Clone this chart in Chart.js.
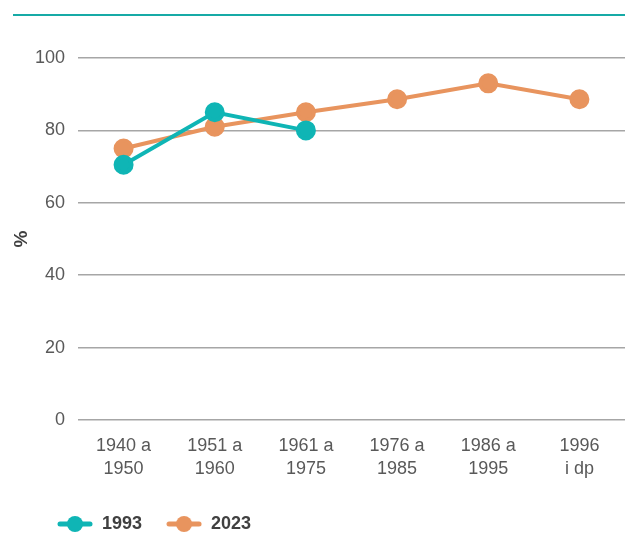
<!DOCTYPE html>
<html>
<head>
<meta charset="utf-8">
<script src="https://cdn.jsdelivr.net/npm/chart.js@4"></script>
<style>
  body { margin: 0; background: #fff; }
  .wrap { position: relative; width: 625px; height: 553px; }
  .topline { position: absolute; left: 13px; right: 0; top: 14px; border-top: 2px solid #16aaa6; }
</style>
</head>
<body>
<div class="wrap">
  <div class="topline"></div>
  <canvas id="myChart" width="625" height="553"></canvas>
</div>
<script>
const labels = [['1940 a', '1950'], ['1951 a', '1960'], ['1961 a', '1975'], ['1976 a', '1985'], ['1986 a', '1995'], ['1996', 'i dp']];
const serie1993 = [70.5, 85, 80, null, null, null];
const serie2023 = [75, 81, 85, 88.6, 93, 88.6];
const yTicks = [0, 20, 40, 60, 80, 100];

const teal = '#0fb5b5';
const orange = '#e8945e';
const FONT = 'Liberation Sans, Arial, sans-serif';

// legend marker: line with a dot in the middle
function marker(color) {
  const c = document.createElement('canvas');
  c.width = 36; c.height = 18;
  const g = c.getContext('2d');
  g.strokeStyle = color;
  g.lineWidth = 5;
  g.lineCap = 'round';
  g.beginPath(); g.moveTo(3, 9); g.lineTo(33, 9); g.stroke();
  g.fillStyle = color;
  g.beginPath(); g.arc(18, 9, 8, 0, Math.PI * 2); g.fill();
  return c;
}

// push the legend to the right, under the plot
const legendShift = {
  id: 'legendShift',
  afterLayout(chart) {
    chart.legend.left += 33;
    chart.legend.right += 33;
  }
};

const ctx = document.getElementById('myChart');

new Chart(ctx, {
  type: 'line',
  data: {
    labels: labels,
    datasets: [
      {
        label: '1993',
        data: serie1993,
        borderColor: teal,
        backgroundColor: teal,
        borderWidth: 4,
        pointStyle: 'circle',
        pointRadius: 8,
        pointHoverRadius: 8
      },
      {
        label: '2023',
        data: serie2023,
        borderColor: orange,
        backgroundColor: orange,
        borderWidth: 4,
        pointStyle: 'circle',
        pointRadius: 8,
        pointHoverRadius: 8
      }
    ]
  },
  plugins: [legendShift],
  options: {
    responsive: false,
    animation: false,
    layout: { autoPadding: false, padding: { top: 58, right: 0, left: 0, bottom: 10 } },
    plugins: {
      legend: {
        position: 'bottom',
        align: 'start',
        labels: {
          usePointStyle: true,
          pointStyleWidth: 36,
          padding: 24,
          color: '#404040',
          font: { family: FONT, size: 18, weight: 'bold' },
          generateLabels: (chart) => chart.data.datasets.map((ds, i) => ({
            text: ds.label,
            fontColor: '#404040',
            pointStyle: marker(ds.borderColor),
            lineWidth: 0,
            strokeStyle: ds.borderColor,
            fillStyle: ds.borderColor,
            datasetIndex: i
          }))
        }
      },
      tooltip: { enabled: false }
    },
    scales: {
      x: {
        offset: true,
        grid: { display: false },
        border: { display: false },
        ticks: {
          color: '#595959',
          maxRotation: 0,
          padding: 6,
          font: { family: FONT, size: 18, lineHeight: 1.3 }
        },
        afterFit: (s) => { s.height = 71; s.paddingLeft = 0; s.paddingRight = 0; }
      },
      y: {
        min: 0,
        max: 100,
        afterBuildTicks: (s) => { s.ticks = yTicks.map(v => ({ value: v })); },
        grid: { color: '#a6a6a6', lineWidth: 1.6, drawTicks: false },
        border: { display: false },
        ticks: {
          color: '#595959',
          padding: 13,
          font: { family: FONT, size: 18 }
        },
        title: {
          display: true,
          text: '%',
          color: '#404040',
          padding: { top: 10, bottom: 0 },
          font: { family: FONT, size: 19, weight: 'bold' }
        },
        afterFit: (s) => { s.width = 78; }
      }
    }
  }
});
</script>
</body>
</html>
